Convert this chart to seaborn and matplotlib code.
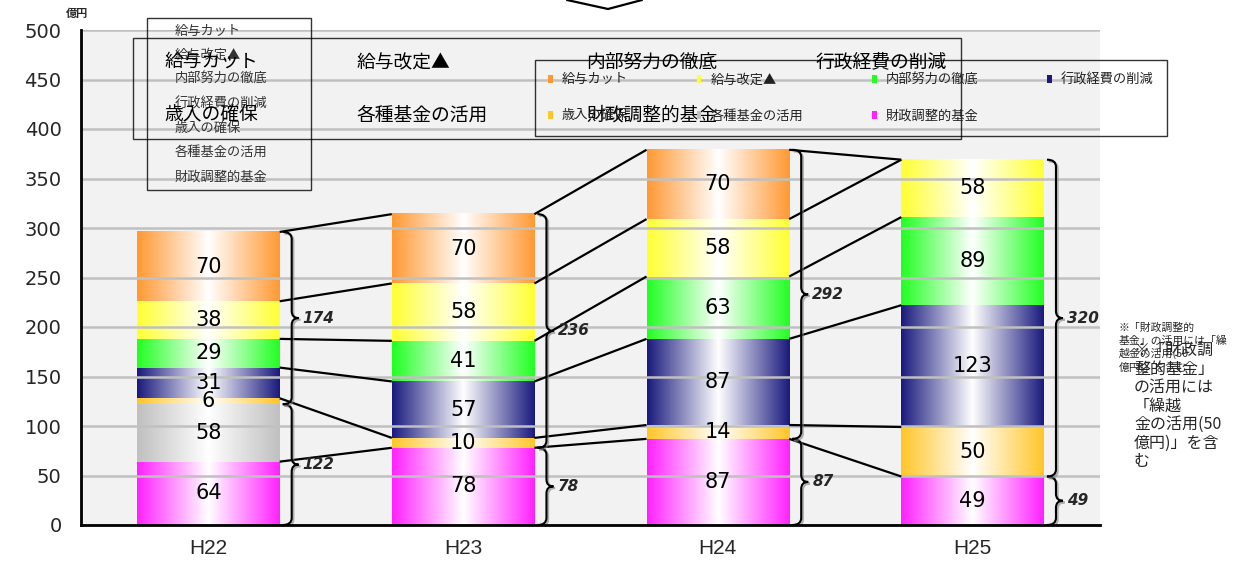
import numpy as np
import matplotlib
matplotlib.use("Agg")
import matplotlib.pyplot as plt
import matplotlib.colors as mcolors
import matplotlib.patheffects as pe
from matplotlib.path import Path
from matplotlib.patches import PathPatch, Patch
from matplotlib.lines import Line2D
import seaborn as sns

# ---------------- data ----------------
years = ["H22", "H23", "H24", "H25"]
series_names = ["給与カット", "給与改定▲", "内部努力の徹底", "行政経費の削減",
                "歳入の確保", "各種基金の活用", "財政調整的基金"]
kyuyo_cut = [70, 70, 70, 0]
kyuyo_kaitei = [38, 58, 58, 58]
naibu_doryoku = [29, 41, 63, 89]
gyosei_keihi = [31, 57, 87, 123]
sainyu_kakuho = [6, 10, 14, 50]
kakushu_kikin = [58, 0, 0, 0]
zaisei_kikin = [64, 78, 87, 49]
upper_totals = [174, 236, 292, 320]
lower_totals = [122, 78, 87, 49]
series_colors = ["#ff9933", "#ffff33", "#22ff22", "#1a1a7e",
                 "#ffc629", "#c0c0c0", "#ff22ff"]
yticks = [0, 50, 100, 150, 200, 250, 300, 350, 400, 450, 500]
unit_label = "億円"
note_small = ["※「財政調整的", "基金」の活用には「繰", "越金の活用(50", "億円)」を含む"]
note_big = ["※「財政調", "整的基金」", "の活用には", "「繰越", "金の活用(50", "億円)」を含", "む"]

series_values = [kyuyo_cut, kyuyo_kaitei, naibu_doryoku, gyosei_keihi,
                 sainyu_kakuho, kakushu_kikin, zaisei_kikin]

# ---------------- style ----------------
sns.set_theme(style="white")
plt.rcParams["font.family"] = ["Noto Sans CJK JP", "DejaVu Sans"]

W, H = 1237, 564
fig = plt.figure(figsize=(W / 100, H / 100), dpi=100)
fig.patch.set_facecolor("white")
ax = fig.add_axes([81 / W, 39 / H, 1019 / W, 495 / H])
ax.set_facecolor("#f2f2f2")

series = list(zip(series_names, series_values, series_colors))
stack_order = series[::-1]

bottom = np.zeros(len(years))
layer_patches = {}
tops = {}
for name, vals, color in stack_order:
    n0 = len(ax.patches)
    sns.barplot(x=years, y=vals, bottom=bottom, color=color, saturation=1,
                width=0.56, errorbar=None, linewidth=0, ax=ax, zorder=1)
    layer_patches[name] = ax.patches[n0:]
    bottom = bottom + np.asarray(vals, float)
    tops[name] = bottom.copy()

# gradient fill (colour at edges, white in the middle)
t = np.linspace(0, 1, 200)
wgt = 1 - np.abs(2 * t - 1)
for name, vals, color in stack_order:
    rgb = np.array(mcolors.to_rgb(color))
    grad = rgb[None, :] * (1 - wgt[:, None]) + wgt[:, None]
    for p, v in zip(layer_patches[name], vals):
        if v <= 0:
            continue
        x0, y0 = p.get_x(), p.get_y()
        w, h = p.get_width(), p.get_height()
        ax.imshow(grad[None], extent=[x0, x0 + w, y0, y0 + h], aspect="auto",
                  interpolation="bilinear", zorder=1.2)
        ax.text(x0 + w / 2, y0 + h / 2, str(v), ha="center", va="center",
                fontsize=15, family="DejaVu Sans", color="black", zorder=3)

ax.set_xlim(-0.5, len(years) - 0.5)
ax.set_ylim(0, 500)

# connector lines between bars
first = stack_order[0][0]
dxp = (len(years)) / 1019.0   # data units per pixel (x)
dyp = 500 / 495.0             # data units per pixel (y)
conn_series = [n for n in series_names if n != "各種基金の活用"]
for i in range(len(years) - 1):
    pr = layer_patches[first][i]
    pl = layer_patches[first][i + 1]
    xr = pr.get_x() + pr.get_width()
    xl = pl.get_x()
    for n in conn_series:
        ax.plot([xr, xl], [tops[n][i], tops[n][i + 1]], color="black", lw=1.6,
                zorder=2.7, solid_capstyle="butt")


def brace(x0, y0, y1, label):
    xm = x0 + 9 * dxp
    xt = x0 + 16 * dxp
    r = 7 * dyp
    ym = (y0 + y1) / 2
    verts = [(x0, y1), (xm, y1), (xm, y1 - r),
             (xm, ym + r),
             (xm, ym), (xt, ym),
             (xm, ym), (xm, ym - r),
             (xm, y0 + r),
             (xm, y0), (x0, y0)]
    codes = [Path.MOVETO, Path.CURVE3, Path.CURVE3,
             Path.LINETO,
             Path.CURVE3, Path.CURVE3,
             Path.CURVE3, Path.CURVE3,
             Path.LINETO,
             Path.CURVE3, Path.CURVE3]
    pp = PathPatch(Path(verts, codes), facecolor="none", edgecolor="black",
                   lw=1.5, zorder=2.8)
    pp.set_path_effects([pe.SimpleLineShadow(offset=(1.2, -1.2),
                                             shadow_color="gray", alpha=0.6),
                         pe.Normal()])
    ax.add_patch(pp)
    ax.text(xt + 4 * dxp, ym, str(label), ha="left", va="center",
            fontsize=11, weight="bold", style="italic",
            family="DejaVu Sans", zorder=3)


for i in range(len(years)):
    p = layer_patches[first][i]
    xr = p.get_x() + p.get_width() + 3 * dxp
    brace(xr, 0, lower_totals[i], lower_totals[i])
    brace(xr, lower_totals[i], lower_totals[i] + upper_totals[i], upper_totals[i])

# axes styling
ax.set_yticks(yticks)
ax.set_yticklabels([str(v) for v in yticks], fontsize=14, fontfamily="DejaVu Sans")
ax.set_xticks(range(len(years)))
ax.set_xticklabels(years, fontsize=15,
                   fontfamily=["Liberation Sans Narrow", "Liberation Sans"])
ax.set_xticks(np.arange(len(years)) + 0.5, minor=True)
ax.tick_params(axis="x", which="major", length=0, pad=10)
ax.tick_params(axis="x", which="minor", length=5, direction="in", width=1.2,
               color="black")
ax.tick_params(axis="y", which="major", length=0, pad=14)
ax.set_xlabel("")
ax.set_ylabel("")
ax.set_axisbelow(False)
ax.yaxis.grid(True, color="#c0c0c0", lw=1.8)
ax.xaxis.grid(False)
for s in ["top", "right"]:
    ax.spines[s].set_visible(False)
for s in ["left", "bottom"]:
    ax.spines[s].set_color("black")
    ax.spines[s].set_linewidth(2)
    ax.spines[s].set_zorder(3)

fig.text(66 / W, 1 - 14 / H, unit_label, fontsize=8, weight="bold", va="center")

# chevron at the top
fig.add_artist(Line2D([567 / W, 608 / W, 642 / W], [1.0, 1 - 9 / H, 1.0],
                      transform=fig.transFigure, color="black", lw=1.6))

# legends (three overlapping boxes as in the reference)
blank = [Patch(facecolor="none", edgecolor="none") for _ in series_names]
legA = fig.legend(blank, series_names, loc="upper left",
                  bbox_to_anchor=(147 / W, 1 - 18 / H, 164 / W, 0), mode="expand",
                  ncol=1, fontsize=9.5, frameon=True, fancybox=False,
                  borderpad=0.5, labelspacing=0.85, handlelength=1.0,
                  handletextpad=0.6, borderaxespad=0, labelcolor="#333333")
legA.get_frame().set(edgecolor="black", facecolor="none", linewidth=1)

order = [0, 4, 1, 5, 2, 6, 3]
legB = fig.legend([blank[k] for k in order], [series_names[k] for k in order],
                  loc="upper left", bbox_to_anchor=(133 / W, 1 - 38 / H, 828 / W, 0),
                  mode="expand", ncol=4, fontsize=13.5, frameon=True, fancybox=False,
                  borderpad=0.75, labelspacing=1.67, handlelength=0.5,
                  handletextpad=0.45, borderaxespad=0, labelcolor="black")
legB.get_frame().set(edgecolor="black", facecolor="none", linewidth=1)

colored = [Patch(facecolor=c, edgecolor="none") for c in series_colors]
legC = fig.legend([colored[k] for k in order], [series_names[k] for k in order],
                  loc="upper left", bbox_to_anchor=(535 / W, 1 - 60 / H, 632 / W, 0),
                  mode="expand", ncol=4, fontsize=9.5, frameon=True, fancybox=False,
                  borderpad=1.0, labelspacing=1.75, handlelength=0.35,
                  handleheight=0.6, handletextpad=0.7, borderaxespad=0,
                  labelcolor="#222222")
legC.get_frame().set(edgecolor="black", facecolor="none", linewidth=1)

# notes on the right
fig.text(1119 / W, 1 - 323 / H, "\n".join(note_small), fontsize=7.8, va="top",
         ha="left", linespacing=1.25)
fig.text(1134 / W, 1 - 342 / H, "\n".join(note_big), fontsize=11.5, va="top",
         ha="left", linespacing=1.12)

fig.savefig("out.png", dpi=100)
